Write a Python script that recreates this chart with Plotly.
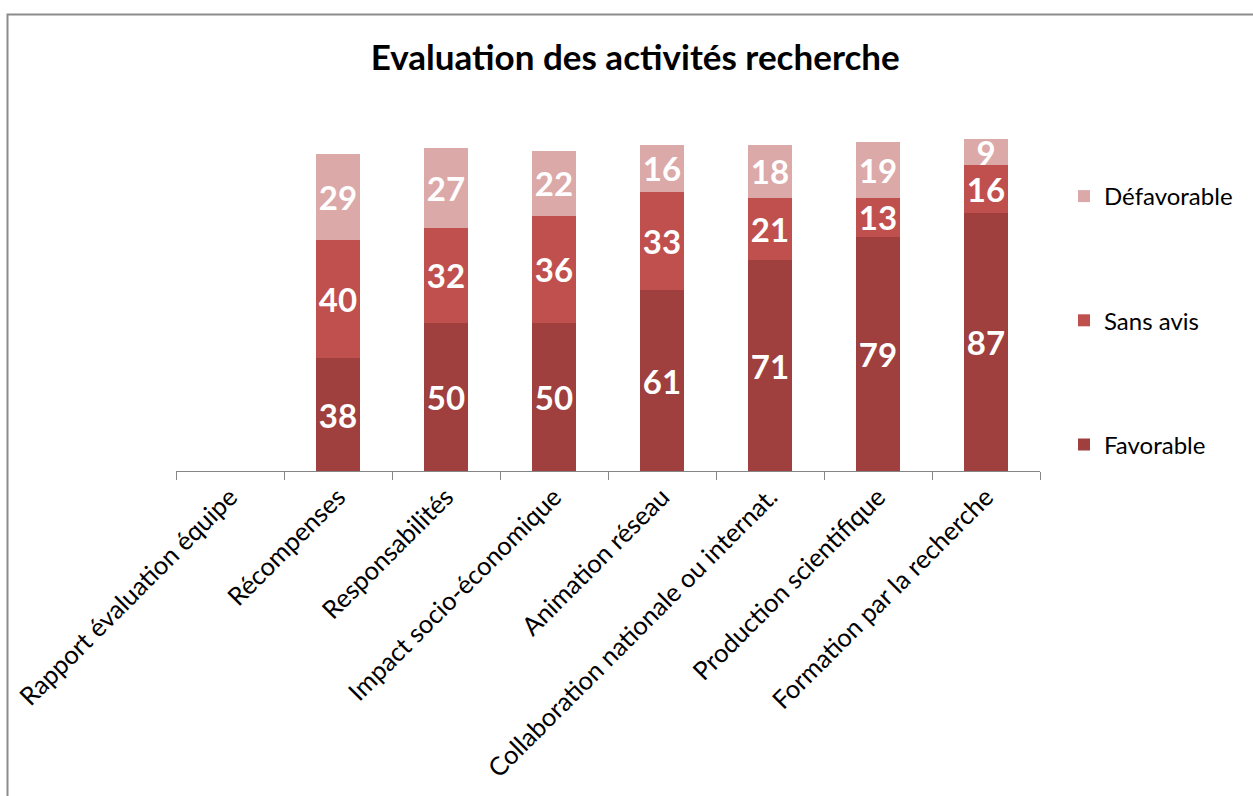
import plotly.graph_objects as go

categories = [
    "Rapport évaluation équipe",
    "Récompenses",
    "Responsabilités",
    "Impact socio-économique",
    "Animation réseau",
    "Collaboration nationale ou internat.",
    "Production scientifique",
    "Formation par la recherche",
]
favorable = [0, 38, 50, 50, 61, 71, 79, 87]
sans_avis = [0, 40, 32, 36, 33, 21, 13, 16]
defavorable = [0, 29, 27, 22, 16, 18, 19, 9]

series = [
    ("Favorable", favorable, "#9F3F3E", 3),
    ("Sans avis", sans_avis, "#C0504D", 2),
    ("Défavorable", defavorable, "#DBA9A8", 1),
]

W, H = 1253, 796
L, R, T, B = 176, 213, 115, 325
FONT = "Lato"

fig = go.Figure()
for name, vals, color, rank in series:
    fig.add_trace(go.Bar(
        x=categories, y=vals, name=name, legendgroup=name, legendrank=rank,
        marker=dict(color=color, line=dict(width=0)),
        text=[str(v) if v else "" for v in vals],
        textposition="inside", insidetextanchor="middle",
        constraintext="none", textangle=0,
        textfont=dict(family=FONT, size=33, color="white", weight="bold"),
        width=0.41,
    ))

pw = W - L - R
ph = H - T - B

def px_x(p):
    return (p - L) / pw

def px_y(p):
    return (H - B - p) / ph

fig.update_layout(
    width=W, height=H,
    margin=dict(l=L, r=R, t=T, b=B, autoexpand=False),
    barmode="stack",
    plot_bgcolor="white", paper_bgcolor="white",
    font=dict(family=FONT, size=25.5, color="black"),
    title=dict(text="<b>Evaluation des activités recherche</b>",
               x=0.507, xanchor="center", y=1 - 58 / H, yanchor="middle",
               font=dict(family=FONT, size=35, color="black")),
    showlegend=True,
    legend=dict(x=px_x(1064), xanchor="left", y=px_y(174), yanchor="top",
                traceorder="grouped", tracegroupgap=90,
                font=dict(family=FONT, size=24, color="black"),
                itemwidth=30, bgcolor="rgba(0,0,0,0)"),
    xaxis=dict(type="category", tickangle=-45, tickson="boundaries",
               ticks="outside", ticklen=8, tickcolor="#868686", tickwidth=1,
               showline=True, linecolor="#868686", linewidth=1,
               showgrid=False, tickfont=dict(family=FONT, size=25.5, color="black")),
    yaxis=dict(range=[0, 120], visible=False, showgrid=False),
    shapes=[dict(type="rect", xref="paper", yref="paper",
                 x0=px_x(7.5), x1=px_x(1300), y0=px_y(14.5), y1=px_y(850),
                 line=dict(color="#8C8C8C", width=2), layer="below")],
)

fig.write_html("out.html", config={"displayModeBar": False},
               post_script="document.body.style.margin='0';")
